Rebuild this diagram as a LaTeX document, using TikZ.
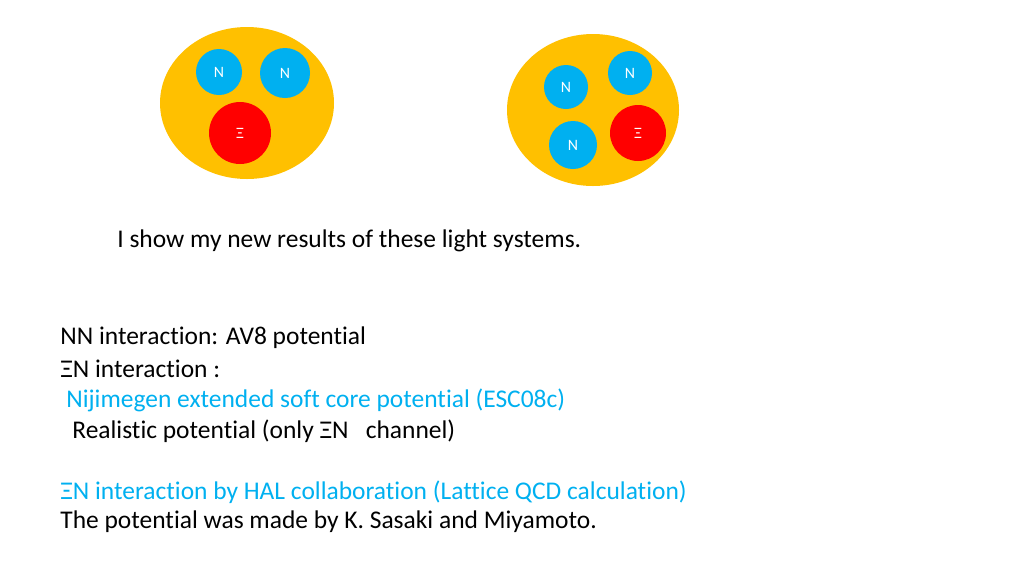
\documentclass[tikz,border=0pt]{standalone}
\usepackage{fontspec}
\setmainfont[RawFeature=-liga]{Carlito}
\definecolor{org}{HTML}{FFC000}
\definecolor{blu}{HTML}{00B0F0}
\definecolor{rd}{HTML}{FF0000}
\begin{document}
\begin{tikzpicture}[x=0.02cm,y=-0.02cm,
  part/.style={circle,inner sep=0pt,text=white,font=\fontsize{9}{10}\selectfont},
  nuc/.style={part,fill=blu},
  xi/.style={part,fill=rd},
  txt/.style={anchor=west,inner sep=0pt,font=\fontsize{14.5}{16}\selectfont}]
\useasboundingbox (0,0) rectangle (1024,576);
\fill[org] (247,103) ellipse [x radius=87,y radius=76];
\fill[org] (593,110) ellipse [x radius=86,y radius=76];
\node[nuc,minimum size=46*0.02cm] (n1) at (219,72) {N};
\node[nuc,minimum size=50*0.02cm] (n2) at (285,73) {N};
\node[xi,minimum size=62*0.02cm] (x1) at (240,133) {Ξ};
\node[nuc,minimum size=44*0.02cm] (n3) at (566,87) {N};
\node[nuc,minimum size=44*0.02cm] (n4) at (630,73) {N};
\node[xi,minimum size=56*0.02cm] (x2) at (638,133) {Ξ};
\node[nuc,minimum size=48*0.02cm] (n5) at (573,145) {N};
\node[txt] (t0) at (117,241) {I show my new results of these light systems.};
\node[txt] (t1) at (60,338) {NN interaction: AV8 potential};
\node[txt] (t2) at (60,369) {ΞN interaction :};
\node[txt,text=blu] (t3) at (66,400) {Nijimegen extended soft core potential (ESC08c)};
\node[txt] (t4) at (72,431) {Realistic potential (only ΞN\ \ \ channel)};
\node[txt,text=blu] (t5) at (60,492) {ΞN interaction by HAL collaboration (Lattice QCD calculation)};
\node[txt] (t6) at (60,522) {The potential was made by K. Sasaki and Miyamoto.};
\end{tikzpicture}
\end{document}
